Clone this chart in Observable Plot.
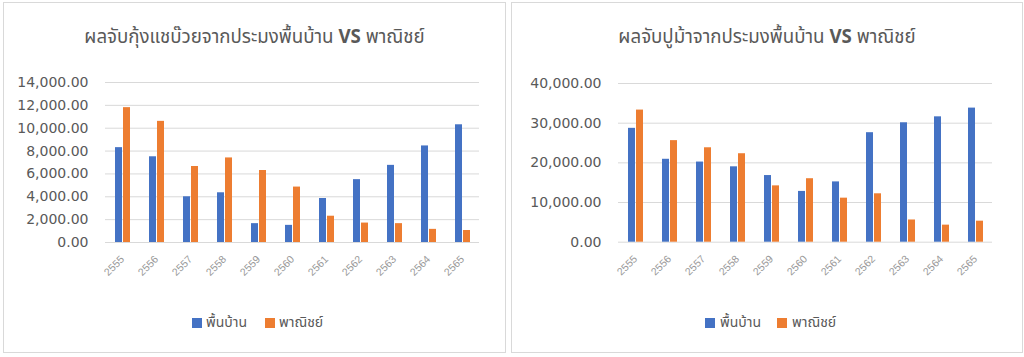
<!DOCTYPE html>
<html>
<head>
<meta charset="utf-8">
<script src="https://cdn.jsdelivr.net/npm/d3@7"></script>
<script src="https://cdn.jsdelivr.net/npm/@observablehq/plot@0.6"></script>
<style>
  html, body { margin: 0; padding: 0; background: #fff; }
  body { width: 1024px; height: 357px; position: relative; overflow: hidden;
         font-family: "Noto Sans Thai", "Noto Sans", "DejaVu Sans", sans-serif; color: #595959; }
  .panel { position: absolute; top: 2px; height: 351px; border: 1px solid #d9d9d9; box-sizing: border-box; }
  .title { position: absolute; top: 20px; left: 0; right: 0; text-align: center; font-size: 18.7px; color: #595959; white-space: nowrap; }
  .title b { font-weight: bold; }
  .chart { position: absolute; top: 56px; }
  .legend { position: absolute; top: 309px; font-size: 14px; color: #595959; white-space: nowrap; }
  .sw { position: absolute; width: 10px; height: 10px; top: 6px; }
  .lt { position: absolute; top: 0; }
</style>
</head>
<body>
<script>
// ---- data ----
const years = ["2555","2556","2557","2558","2559","2560","2561","2562","2563","2564","2565"];
const seriesNames = ["พื้นบ้าน", "พาณิชย์"];
const seriesColors = ["#4472C4", "#ED7D31"];

const shrimpTitle = "ผลจับกุ้งแชบ๊วยจากประมงพื้นบ้าน";
const shrimpLocal      = [8300, 7500, 4000, 4350, 1650, 1500, 3850, 5500, 6750, 8450, 10300];
const shrimpCommercial = [11800, 10600, 6650, 7400, 6300, 4850, 2300, 1700, 1650, 1150, 1050];
const shrimpTicks = [0, 2000, 4000, 6000, 8000, 10000, 12000, 14000];

const crabTitle = "ผลจับปูม้าจากประมงพื้นบ้าน";
const crabLocal      = [28700, 20900, 20200, 19000, 16800, 12800, 15200, 27600, 30100, 31600, 33800];
const crabCommercial = [33300, 25600, 23800, 22300, 14200, 16000, 11100, 12200, 5600, 4300, 5300];
const crabTicks = [0, 10000, 20000, 30000, 40000];

function makeRows(local, commercial) {
  const rows = [];
  years.forEach((y, i) => {
    rows.push({year: y, series: seriesNames[0], value: local[i]});
    rows.push({year: y, series: seriesNames[1], value: commercial[i]});
  });
  return rows;
}

function panel(cfg) {
  const p = document.createElement("div");
  p.className = "panel";
  p.style.left = cfg.left + "px";
  p.style.width = cfg.width + "px";
  document.body.appendChild(p);

  const t = document.createElement("div");
  t.className = "title";
  t.innerHTML = cfg.title + " <b>VS</b> " + seriesNames[1];
  p.appendChild(t);

  const rows = makeRows(cfg.local, cfg.commercial);
  const svg = Plot.plot({
    width: cfg.svgWidth,
    height: 230,
    marginLeft: cfg.ml,
    marginRight: cfg.mr,
    marginTop: cfg.mt,
    marginBottom: 230 - cfg.mt - cfg.ph,
    style: {fontFamily: "'DejaVu Sans', sans-serif", color: "#595959", background: "transparent"},
    fx: {domain: years, paddingInner: 0, paddingOuter: 0, label: null},
    x: {domain: seriesNames, paddingInner: 0.17, paddingOuter: 0.98, axis: null},
    y: {domain: [0, cfg.ticks[cfg.ticks.length - 1]], label: null, axis: null},
    color: {domain: seriesNames, range: seriesColors},
    marks: [
      Plot.gridY(cfg.ticks, {stroke: "#d9d9d9", strokeOpacity: 1, strokeWidth: 1}),
      Plot.barY(rows, {fx: "year", x: "series", y: "value", fill: "series"}),
      Plot.axisY(cfg.ticks, {tickSize: 0, tickPadding: 17, tickFormat: d3.format(",.2f"),
                             fontSize: 14, fill: "#595959", label: null}),
      Plot.axisFx({anchor: "bottom", tickSize: 0, tickPadding: 15, tickRotate: -45,
                   fontSize: 10.5, fill: "#999999", label: null,
                   fontFamily: "'Liberation Sans', sans-serif"})
    ]
  });
  svg.classList.add("chart");
  svg.style.left = cfg.svgLeft + "px";
  p.appendChild(svg);

  const lg = document.createElement("div");
  lg.className = "legend";
  lg.style.left = 0; lg.style.width = "100%";
  seriesNames.forEach((name, i) => {
    const sw = document.createElement("div");
    sw.className = "sw";
    sw.style.left = cfg.legend[i][0] + "px";
    sw.style.background = seriesColors[i];
    lg.appendChild(sw);
    const tx = document.createElement("div");
    tx.className = "lt";
    tx.style.left = cfg.legend[i][1] + "px";
    tx.textContent = name;
    lg.appendChild(tx);
  });
  p.appendChild(lg);
}

panel({left: 3, width: 503, title: shrimpTitle, local: shrimpLocal, commercial: shrimpCommercial,
       ticks: shrimpTicks, svgLeft: 0, svgWidth: 500, ml: 100, mr: 24, mt: 23, ph: 160,
       legend: [[188, 202], [261, 275]]});
panel({left: 511, width: 512, title: crabTitle, local: crabLocal, commercial: crabCommercial,
       ticks: crabTicks, svgLeft: 0, svgWidth: 510, ml: 101, mr: 25, mt: 24, ph: 158.7,
       legend: [[193, 208], [265, 280]]});
</script>
</body>
</html>
